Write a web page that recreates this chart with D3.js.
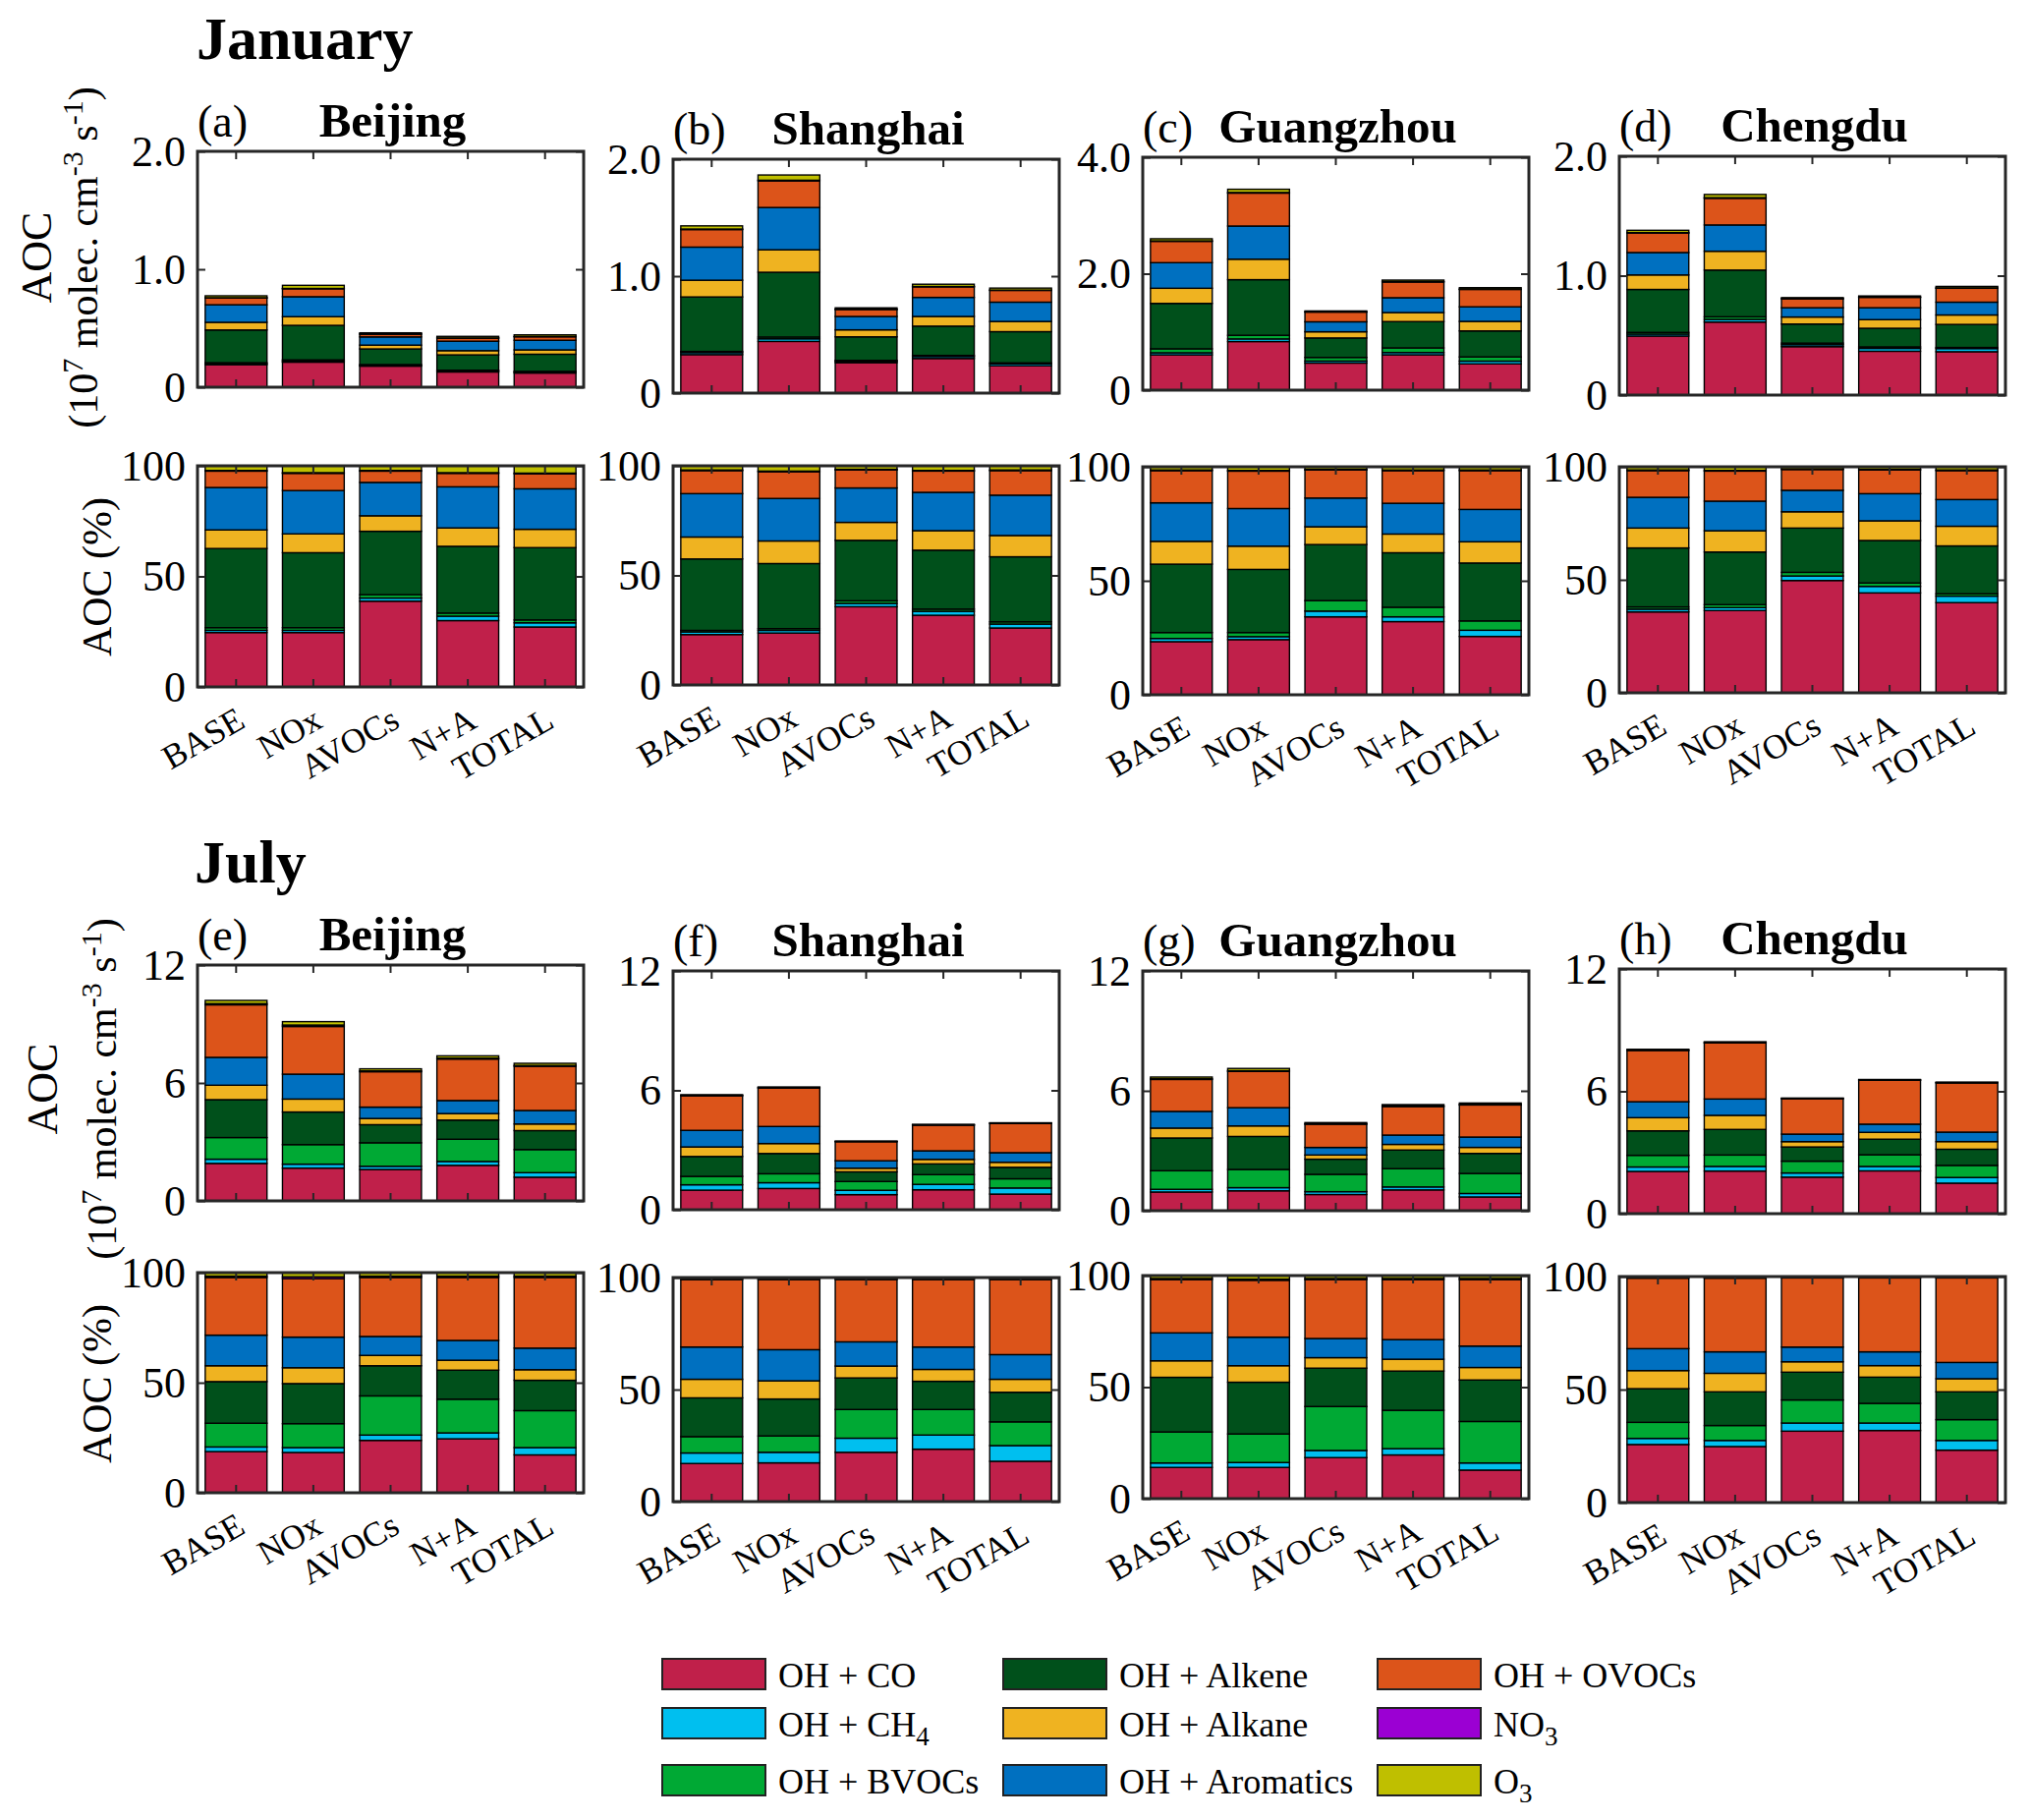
<!DOCTYPE html>
<html><head><meta charset="utf-8">
<script src="https://cdn.jsdelivr.net/npm/d3@7"></script>
<style>
body{margin:0;background:#fff}
svg text{font-family:"Liberation Serif","Times New Roman",serif;fill:#000}
</style>
</head><body>
<svg id="chart" width="2067" height="1852"></svg>
<script>
// ---------------- DATA ----------------
const scenarios = ["BASE", "NOx", "AVOCs", "N+A", "TOTAL"];
const cities = ["Beijing", "Shanghai", "Guangzhou", "Chengdu"];
const components = ["OH + CO", "OH + CH4", "OH + BVOCs", "OH + Alkene", "OH + Alkane", "OH + Aromatics", "OH + OVOCs", "NO3", "O3"];
const componentColors = ["#C0204A", "#00BFEF", "#00A934", "#00501B", "#EFB321", "#0070C0", "#DC541A", "#9B00D3", "#BFBF00"];

// Share (%) of each component per scenario (rows: BASE, NOx, AVOCs, N+A, TOTAL)
const janBeijing = [
  [24.6, 1.0, 1.2, 35.8, 8.4, 19.2, 7.4, 0.3, 2.1],
  [24.6, 1.0, 1.2, 33.9, 8.5, 19.6, 7.8, 0.3, 3.1],
  [38.8, 1.4, 1.5, 28.7, 7.0, 15.1, 5.1, 0.3, 2.1],
  [30.0, 2.0, 1.4, 30.2, 8.3, 18.6, 6.1, 0.3, 3.1],
  [27.1, 1.9, 1.3, 32.7, 8.3, 18.3, 6.8, 0.3, 3.3]];
const janShanghai = [
  [23.0, 1.2, 0.7, 32.6, 10.0, 19.8, 10.5, 0.3, 1.9],
  [23.7, 1.2, 0.8, 29.7, 10.3, 19.4, 12.2, 0.3, 2.4],
  [35.7, 1.5, 1.2, 27.6, 8.2, 15.7, 8.2, 0.3, 1.6],
  [31.8, 1.8, 1.0, 26.9, 8.9, 17.5, 9.7, 0.3, 2.1],
  [26.0, 1.8, 1.0, 29.7, 9.7, 18.4, 11.2, 0.3, 1.9]];
const janGuangzhou = [
  [23.3, 1.4, 2.6, 30.0, 10.0, 16.9, 14.1, 0.3, 1.4],
  [24.2, 1.3, 1.8, 27.7, 10.2, 16.5, 16.4, 0.3, 1.6],
  [34.2, 2.5, 4.6, 24.6, 7.8, 12.6, 12.3, 0.3, 1.1],
  [32.1, 2.1, 4.2, 23.9, 8.2, 13.5, 14.3, 0.3, 1.4],
  [25.6, 2.7, 4.1, 25.4, 9.3, 14.2, 17.0, 0.3, 1.4]];
const janChengdu = [
  [35.8, 1.2, 1.0, 26.1, 8.8, 13.6, 11.8, 0.3, 1.4],
  [36.4, 1.3, 1.3, 23.3, 9.4, 13.1, 13.3, 0.3, 1.6],
  [49.7, 2.0, 1.6, 19.6, 7.2, 9.5, 9.2, 0.3, 0.9],
  [44.2, 2.9, 1.5, 18.8, 8.7, 12.0, 10.5, 0.3, 1.1],
  [39.9, 2.9, 1.0, 21.2, 8.7, 11.8, 12.8, 0.3, 1.4]];
const julBeijing = [
  [18.7, 2.1, 10.8, 18.9, 7.2, 13.9, 26.2, 0.6, 1.6],
  [18.3, 2.2, 10.9, 18.2, 7.2, 13.9, 26.6, 0.8, 1.9],
  [23.8, 2.4, 17.8, 13.7, 4.7, 8.6, 26.8, 0.6, 1.6],
  [24.5, 2.7, 15.3, 13.2, 4.5, 9.0, 28.6, 0.6, 1.6],
  [17.2, 3.3, 16.8, 13.8, 4.8, 9.8, 32.1, 0.6, 1.6]];
const julShanghai = [
  [17.0, 4.7, 7.3, 17.3, 8.3, 14.4, 30.1, 0.4, 0.5],
  [17.3, 4.7, 7.3, 16.5, 8.1, 13.9, 31.3, 0.4, 0.5],
  [22.0, 6.3, 12.8, 14.1, 5.3, 10.8, 27.8, 0.4, 0.5],
  [23.4, 6.3, 11.4, 12.6, 5.3, 10.0, 30.1, 0.4, 0.5],
  [18.0, 7.0, 10.6, 13.2, 5.8, 11.0, 33.5, 0.4, 0.5]];
const julGuangzhou = [
  [14.0, 2.0, 13.9, 24.5, 7.4, 12.5, 23.9, 0.5, 1.3],
  [14.0, 2.2, 12.8, 23.2, 7.4, 12.8, 25.5, 0.5, 1.6],
  [18.4, 3.2, 19.7, 17.2, 4.7, 8.6, 26.4, 0.5, 1.3],
  [19.6, 2.8, 17.2, 17.6, 5.3, 8.8, 26.9, 0.5, 1.3],
  [12.8, 3.2, 18.6, 18.6, 5.6, 9.6, 29.8, 0.5, 1.3]];
const julChengdu = [
  [25.7, 2.7, 7.1, 14.9, 8.0, 9.7, 31.2, 0.3, 0.4],
  [24.8, 2.7, 6.6, 14.9, 8.2, 9.5, 32.6, 0.3, 0.4],
  [31.6, 3.6, 10.2, 12.3, 4.6, 6.5, 30.6, 0.3, 0.3],
  [31.9, 3.3, 8.7, 11.6, 5.1, 6.1, 32.7, 0.3, 0.3],
  [23.2, 4.3, 9.2, 12.3, 5.8, 7.2, 37.4, 0.3, 0.3]];

// Total AOC (10^7 molec. cm^-3 s^-1), per city, per scenario
const janTotals = [
  [0.775, 0.864, 0.461, 0.431, 0.444],
  [1.43, 1.865, 0.729, 0.931, 0.898],
  [2.60, 3.45, 1.36, 1.89, 1.76],
  [1.38, 1.68, 0.816, 0.83, 0.91]];
const julTotals = [
  [10.2, 9.12, 6.72, 7.38, 7.0],
  [5.78, 6.17, 3.45, 4.29, 4.37],
  [6.69, 7.12, 4.41, 5.31, 5.39],
  [8.06, 8.43, 5.67, 6.58, 6.45]];

// Tick labels
const janTicks = [[0, 1, 2], [0, 1, 2], [0, 2, 4], [0, 1, 2]];
const julTicks = [[0, 6, 12], [0, 6, 12], [0, 6, 12], [0, 6, 12]];
const pctTicks = [0, 50, 100];
const janLetters = ["(a)", "(b)", "(c)", "(d)"];
const julLetters = ["(e)", "(f)", "(g)", "(h)"];

const janShares = [janBeijing, janShanghai, janGuangzhou, janChengdu];
const julShares = [julBeijing, julShanghai, julGuangzhou, julChengdu];

// ---------------- LAYOUT ----------------
const svg = d3.select("#chart");
svg.append("rect").attr("width", 2067).attr("height", 1852).attr("fill", "#fff");
const colLeft = [201, 685, 1163, 1648];
const PW = 393;
const boxes = {
  janAbs: [[154, 394], [162, 400], [160, 397], [159, 402]],
  janPct: [[474, 699], [474, 697], [475, 707], [475, 705]],
  julAbs: [[982, 1222], [988, 1231], [988, 1232], [986, 1235]],
  julPct: [[1295, 1519], [1300, 1528], [1298, 1525], [1299, 1529]]
};

function fmtTick(v, maxTick) {
  if (v === 0) return "0";
  return maxTick <= 4 ? d3.format(".1f")(v) : String(v);
}

function drawPanel(x0, y0, y1, rows, ticks, showX) {
  const yMax = ticks[ticks.length - 1];
  const x = d3.scaleBand().domain(scenarios).range([x0, x0 + PW]).paddingInner(0.2).paddingOuter(0.1);
  const y = d3.scaleLinear().domain([0, yMax]).range([y1, y0]);
  const table = rows.map((r, i) => {
    const o = { scenario: scenarios[i] };
    components.forEach((c, j) => o[c] = r[j]);
    return o;
  });
  const series = d3.stack().keys(components)(table);
  const g = svg.append("g");
  g.selectAll("g.layer").data(series).join("g").attr("class", "layer")
    .attr("fill", (d, i) => componentColors[i])
    .selectAll("rect").data(d => d).join("rect")
    .attr("x", d => x(d.data.scenario))
    .attr("width", x.bandwidth())
    .attr("y", d => y(d[1]))
    .attr("height", d => Math.max(0, y(d[0]) - y(d[1])))
    .attr("stroke", "#000").attr("stroke-width", 1.4);

  // left axis
  const ax = g.append("g").attr("transform", `translate(${x0},0)`)
    .call(d3.axisLeft(y).tickValues(ticks).tickFormat(v => fmtTick(v, yMax))
      .tickSizeInner(-8).tickSizeOuter(0).tickPadding(12));
  ax.select(".domain").remove();
  ax.selectAll("line").attr("stroke", "#262626").attr("stroke-width", 2);
  ax.selectAll("text").attr("font-size", 44).attr("font-family", "Liberation Serif").attr("fill", "#000");
  ax.attr("font-family", null).attr("font-size", null);
  // right axis (mirrored ticks)
  const ar = g.append("g").attr("transform", `translate(${x0 + PW},0)`)
    .call(d3.axisRight(y).tickValues(ticks).tickFormat("").tickSizeInner(-8).tickSizeOuter(0));
  ar.select(".domain").remove();
  ar.selectAll("line").attr("stroke", "#262626").attr("stroke-width", 2);
  // top axis
  const at = g.append("g").attr("transform", `translate(0,${y0})`)
    .call(d3.axisTop(x).tickFormat("").tickSizeInner(-8).tickSizeOuter(0));
  at.select(".domain").remove();
  at.selectAll("line").attr("stroke", "#262626").attr("stroke-width", 2);
  // bottom axis
  const ab = g.append("g").attr("transform", `translate(0,${y1})`)
    .call(d3.axisBottom(x).tickSizeInner(-8).tickSizeOuter(0));
  ab.select(".domain").remove();
  ab.selectAll("line").attr("stroke", "#262626").attr("stroke-width", 2);
  if (showX) {
    ab.selectAll("text")
      .attr("font-size", 35).attr("font-family", "Liberation Serif").attr("fill", "#000")
      .attr("text-anchor", "end").attr("x", 0).attr("y", 0).attr("dy", 0)
      .attr("transform", "translate(11,40) rotate(-30)");
  } else {
    ab.selectAll("text").remove();
  }
  ab.attr("font-family", null).attr("font-size", null);
  // box
  g.append("rect").attr("x", x0).attr("y", y0).attr("width", PW).attr("height", y1 - y0)
    .attr("fill", "none").attr("stroke", "#262626").attr("stroke-width", 3);
  return g;
}

function drawTitle(i, top, letter) {
  svg.append("text").attr("x", colLeft[i]).attr("y", top - 15)
    .attr("font-size", 46).text(letter);
  svg.append("text").attr("x", colLeft[i] + PW / 2 + 2).attr("y", top - 15)
    .attr("text-anchor", "middle").attr("font-size", 49).attr("font-weight", "bold").text(cities[i]);
}

function normalize(r) { const s = d3.sum(r); return r.map(v => v / s); }

// January
cities.forEach((c, i) => {
  const abs = janShares[i].map((r, k) => normalize(r).map(v => v * janTotals[i][k]));
  const pct = janShares[i].map(r => normalize(r).map(v => v * 100));
  drawPanel(colLeft[i], boxes.janAbs[i][0], boxes.janAbs[i][1], abs, janTicks[i], false);
  drawPanel(colLeft[i], boxes.janPct[i][0], boxes.janPct[i][1], pct, pctTicks, true);
  drawTitle(i, boxes.janAbs[i][0], janLetters[i]);
});
// July
cities.forEach((c, i) => {
  const abs = julShares[i].map((r, k) => normalize(r).map(v => v * julTotals[i][k]));
  const pct = julShares[i].map(r => normalize(r).map(v => v * 100));
  drawPanel(colLeft[i], boxes.julAbs[i][0], boxes.julAbs[i][1], abs, julTicks[i], false);
  drawPanel(colLeft[i], boxes.julPct[i][0], boxes.julPct[i][1], pct, pctTicks, true);
  drawTitle(i, boxes.julAbs[i][0], julLetters[i]);
});

// Month headers
svg.append("text").attr("x", 200).attr("y", 60).attr("font-size", 62).attr("font-weight", "bold").text("January");
svg.append("text").attr("x", 198).attr("y", 898).attr("font-size", 62).attr("font-weight", "bold").text("July");

// Y axis labels
function unitLabel(cx, cy, bx) {
  svg.append("text").attr("transform", `translate(${cx},${cy}) rotate(-90)`)
    .attr("text-anchor", "middle").attr("font-size", 44).text("AOC");
  const t = svg.append("text").attr("transform", `translate(${bx},${cy}) rotate(-90)`)
    .attr("text-anchor", "middle").attr("font-size", 42);
  t.append("tspan").text("(10");
  t.append("tspan").attr("dy", -15).attr("font-size", 30).text("7");
  t.append("tspan").attr("dy", 15).text(" molec. cm");
  t.append("tspan").attr("dy", -15).attr("font-size", 30).text("-3");
  t.append("tspan").attr("dy", 15).text(" s");
  t.append("tspan").attr("dy", -15).attr("font-size", 30).text("-1");
  t.append("tspan").attr("dy", 15).text(")");
}
unitLabel(52, 262, 99);
unitLabel(58, 1108, 118);
function pctLabel(bx, cy) {
  svg.append("text").attr("transform", `translate(${bx},${cy}) rotate(-90)`)
    .attr("text-anchor", "middle").attr("font-size", 42).text("AOC (%)");
}
pctLabel(113, 587);
pctLabel(113, 1408);

// Legend
const legX = [674, 1021, 1402];
const legY = [1688, 1738, 1796];
const legLabels = [
  ["OH + CO"], ["OH + CH", "4"], ["OH + BVOCs"],
  ["OH + Alkene"], ["OH + Alkane"], ["OH + Aromatics"],
  ["OH + OVOCs"], ["NO", "3"], ["O", "3"]];
const leg = svg.append("g");
components.forEach((c, i) => {
  const col = Math.floor(i / 3), row = i % 3;
  leg.append("rect").attr("x", legX[col]).attr("y", legY[row]).attr("width", 105).attr("height", 31)
    .attr("fill", componentColors[i]).attr("stroke", "#222").attr("stroke-width", 2);
  const t = leg.append("text").attr("x", legX[col] + 118).attr("y", legY[row] + 29).attr("font-size", 36);
  t.append("tspan").text(legLabels[i][0]);
  if (legLabels[i][1]) t.append("tspan").attr("dy", 9).attr("font-size", 27).text(legLabels[i][1]);
});
</script>
</body></html>
